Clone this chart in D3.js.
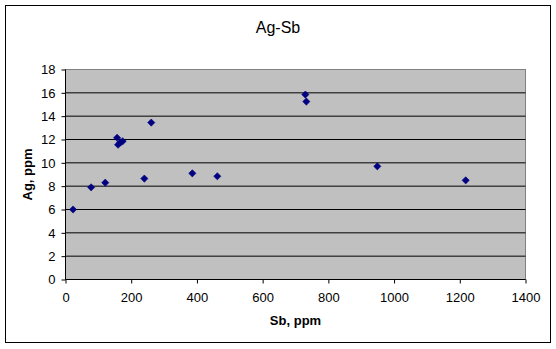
<!DOCTYPE html>
<html><head><meta charset="utf-8">
<script src="https://cdn.jsdelivr.net/npm/d3@7"></script>
<style>body{margin:0;background:#fff}svg{display:block}</style>
</head><body>
<script>
const title = "Ag-Sb";
const xTitle = "Sb, ppm";
const yTitle = "Ag, ppm";
const sb = [23, 78, 121, 157, 160, 167, 174, 240, 261, 386, 462, 730, 733, 949, 1218];
const ag = [6.0, 7.9, 8.3, 12.15, 11.55, 11.75, 11.85, 8.65, 13.45, 9.1, 8.85, 15.85, 15.25, 9.7, 8.5];
const xTicks = [0, 200, 400, 600, 800, 1000, 1200, 1400];
const yTicks = [0, 2, 4, 6, 8, 10, 12, 14, 16, 18];

const W = 556, H = 349;
const svg = d3.select("body").append("svg").attr("width", W).attr("height", H);
const font = "'Liberation Sans', Arial, sans-serif";

svg.append("rect").attr("x", 5.5).attr("y", 5.5).attr("width", 545).attr("height", 337)
  .attr("fill", "#fff").attr("stroke", "#000").attr("stroke-width", 1);

const L = 65.5, R = 525.5, T = 69.5, B = 279.5;
const x = d3.scaleLinear().domain([0, 1400]).range([L, R]);
const y = d3.scaleLinear().domain([0, 18]).range([B, T]);

svg.append("rect").attr("x", L).attr("y", T).attr("width", R - L).attr("height", B - T)
  .attr("fill", "#c0c0c0").attr("stroke", "#808080").attr("stroke-width", 1);

// gridlines
svg.append("g").selectAll("line").data(yTicks.filter(d => d > 0 && d < 18)).join("line")
  .attr("x1", L).attr("x2", R).attr("y1", d => y(d)).attr("y2", d => y(d))
  .attr("stroke", "#000").attr("stroke-width", 1);

// axes
const xAxis = d3.axisBottom(x).tickValues(xTicks).tickSize(4).tickPadding(9).tickFormat(d3.format("d"));
const gx = svg.append("g").attr("transform", `translate(0,${B})`).call(xAxis);
const yAxis = d3.axisLeft(y).tickValues(yTicks).tickSize(4).tickPadding(6).tickFormat(d3.format("d"));
const gy = svg.append("g").attr("transform", `translate(${L},0)`).call(yAxis);
[gx, gy].forEach(g => {
  g.select(".domain").attr("stroke", "#000").attr("d", null);
  g.selectAll(".tick line").attr("stroke", "#000");
  g.selectAll("text").attr("font-family", font).attr("font-size", 13).attr("fill", "#000");
});
gx.select(".domain").remove();
gy.select(".domain").remove();
svg.append("line").attr("x1", L).attr("x2", R).attr("y1", B).attr("y2", B).attr("stroke", "#000");
svg.append("line").attr("x1", L).attr("x2", L).attr("y1", T).attr("y2", B).attr("stroke", "#000");

// points
const pts = sb.map((v, i) => [v, ag[i]]);
const s = 3.6;
svg.append("g").selectAll("path").data(pts).join("path")
  .attr("d", d => {
    const cx = x(d[0]), cy = y(d[1]);
    return `M${cx},${cy - s}L${cx + s},${cy}L${cx},${cy + s}L${cx - s},${cy}Z`;
  })
  .attr("fill", "#000080").attr("stroke", "#000080").attr("stroke-width", 0.6);

// titles
svg.append("text").attr("x", 278).attr("y", 33).attr("text-anchor", "middle")
  .attr("font-family", font).attr("font-size", 16).text(title);
svg.append("text").attr("x", (L + R) / 2).attr("y", 325).attr("text-anchor", "middle")
  .attr("font-family", font).attr("font-size", 13).attr("font-weight", "bold").text(xTitle);
svg.append("text").attr("transform", `translate(32,${(T + B) / 2}) rotate(-90)`).attr("text-anchor", "middle")
  .attr("font-family", font).attr("font-size", 13).attr("font-weight", "bold").text(yTitle);
</script>
</body></html>
